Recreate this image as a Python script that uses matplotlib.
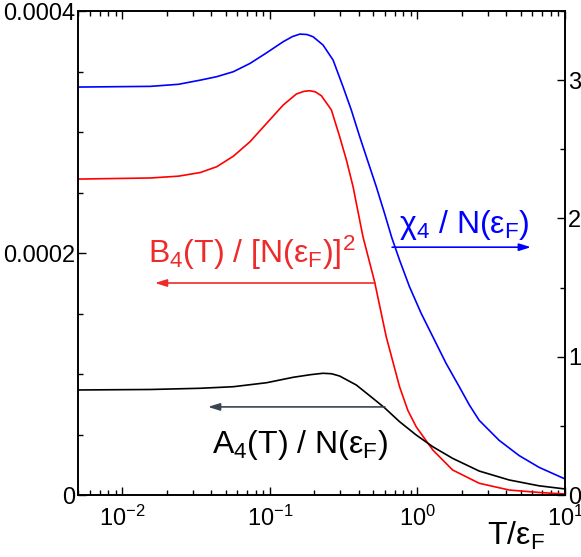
import matplotlib
matplotlib.use("Agg")
import matplotlib.pyplot as plt
from matplotlib.ticker import MultipleLocator, FixedLocator, LogLocator, NullFormatter

plt.rcParams.update({
    'font.family': ['Liberation Sans', 'DejaVu Sans'],
    'mathtext.fontset': 'custom',
    'mathtext.rm': 'Liberation Sans',
    'mathtext.it': 'Liberation Sans',
    'mathtext.bf': 'Liberation Sans:bold',
})

# chi4 / N(eF)  (right axis)
T_chi = [0.005, 0.0155, 0.024, 0.0337, 0.0436, 0.0565, 0.0733, 0.095, 0.123, 0.142, 0.1595,
         0.178, 0.196, 0.229, 0.268, 0.313, 0.356, 0.406, 0.462, 0.526, 0.598, 0.670,
         0.756, 0.883, 1.059, 1.27, 1.563, 1.92, 2.25, 2.62, 3.58, 4.89, 6.67, 10.0]
chi4 = [2.95, 2.955, 2.97, 3.00, 3.025, 3.061, 3.121, 3.198, 3.278, 3.315, 3.333,
        3.330, 3.314, 3.254, 3.145, 2.952, 2.784, 2.591, 2.410, 2.229, 2.037, 1.860,
        1.699, 1.506, 1.314, 1.145, 0.952, 0.783, 0.650, 0.540, 0.395, 0.285, 0.200, 0.116]

# B4(T) / [N(eF)]^2  (left axis)
T_B = [0.005, 0.0155, 0.024, 0.0337, 0.0436, 0.0565, 0.0733, 0.095, 0.123, 0.151,
       0.170, 0.186, 0.203, 0.223, 0.261, 0.297, 0.330, 0.366, 0.427, 0.512, 0.614, 0.756,
       0.860, 0.980, 1.27, 1.73, 2.62, 4.19, 6.67, 10.0]
B4 = [2.611e-4, 2.62e-4, 2.635e-4, 2.665e-4, 2.713e-4, 2.800e-4, 2.920e-4, 3.072e-4, 3.223e-4, 3.314e-4,
      3.336e-4, 3.341e-4, 3.332e-4, 3.300e-4, 3.182e-4, 2.961e-4, 2.768e-4, 2.548e-4, 2.135e-4, 1.763e-4, 1.308e-4, 8.95e-5,
      7.0e-5, 5.64e-5, 3.72e-5, 2.07e-5, 9.7e-6, 4.1e-6, 2.1e-6, 8e-7]

# A4(T) / N(eF)  (left axis)
T_A = [0.005, 0.0155, 0.0337, 0.0565, 0.095, 0.144, 0.190, 0.229, 0.262, 0.297, 0.385, 0.499,
       0.598, 0.756, 0.980, 1.27, 1.73, 2.62, 4.19, 6.67, 10.0]
A4 = [8.68e-5, 8.72e-5, 8.82e-5, 8.95e-5, 9.28e-5, 9.73e-5, 9.95e-5, 1.006e-4, 1.002e-4, 9.83e-5, 9.09e-5, 7.99e-5,
      7.21e-5, 6.06e-5, 4.96e-5, 3.99e-5, 3.03e-5, 1.98e-5, 1.24e-5, 7.6e-6, 5.0e-6]

left_ticks = [0, 0.0002, 0.0004]
left_labels = ['0', '0.0002', '0.0004']
right_ticks = [0, 1, 2, 3]

W, H = 581, 557
fig = plt.figure(figsize=(W / 100, H / 100), dpi=100)
ax = fig.add_axes([78 / W, 1 - 495 / H, (565 - 78) / W, (495 - 11) / H])
ax2 = ax.twinx()

ax.plot(T_B, B4, color='#ff0000', lw=1.2)
ax.plot(T_A, A4, color='black', lw=1.2)
ax2.plot(T_chi, chi4, color='#0000ff', lw=1.2)

ax.set_xscale('log')
ax.set_xlim(0.005, 10)
ax.set_ylim(0, 0.0004)
ax2.set_ylim(0, 3.5)

ax.yaxis.set_major_locator(FixedLocator(left_ticks))
ax.set_yticklabels(left_labels)
ax.yaxis.set_minor_locator(MultipleLocator(0.00005))
ax2.yaxis.set_major_locator(FixedLocator(right_ticks))
ax2.yaxis.set_minor_locator(MultipleLocator(0.5))
ax.xaxis.set_major_locator(LogLocator(base=10, numticks=10))
ax.xaxis.set_minor_locator(LogLocator(base=10, subs=range(2, 10), numticks=20))
ax.xaxis.set_minor_formatter(NullFormatter())

for a in (ax, ax2):
    a.tick_params(which='major', direction='in', length=6, width=1.0, labelsize=17)
    a.tick_params(which='minor', direction='in', length=3.5, width=1.0)
    for s in a.spines.values():
        s.set_linewidth(1.2)
ax.tick_params(axis='x', which='both', top=True, pad=8)
ax.tick_params(axis='y', which='both', right=False, pad=2)
ax2.tick_params(axis='y', pad=2)

ax.text(0.840, -0.103, r'$\mathrm{T/ε_F}$', transform=ax.transAxes, fontsize=23,
        ha='left', va='baseline')

# annotations
ax.text(0.144, 0.479, r'$\mathrm{B_4(T)\ /\ [N(ε_F)]^2}$', transform=ax.transAxes,
        fontsize=23, color='#ee2b2b', ha='left', va='baseline')
ax.annotate('', xy=(0.158, 0.438), xytext=(0.610, 0.438), xycoords='axes fraction',
            arrowprops=dict(arrowstyle='-|>,head_length=0.7,head_width=0.22',
                            color='#ee2b2b', lw=1.2, shrinkA=0, shrinkB=0))

ax.text(0.659, 0.541, r'$\mathrm{χ_4\ /\ N(ε_F)}$', transform=ax.transAxes,
        fontsize=23, color='#0000ff', ha='left', va='baseline')
ax.annotate('', xy=(0.930, 0.512), xytext=(0.645, 0.512), xycoords='axes fraction',
            arrowprops=dict(arrowstyle='-|>,head_length=0.7,head_width=0.22',
                            color='#0000ff', lw=1.2, shrinkA=0, shrinkB=0))

ax.text(0.275, 0.087, r'$\mathrm{A_4(T)\ /\ N(ε_F)}$', transform=ax.transAxes,
        fontsize=23, color='black', ha='left', va='baseline')
ax.annotate('', xy=(0.267, 0.182), xytext=(0.630, 0.182), xycoords='axes fraction',
            arrowprops=dict(arrowstyle='-|>,head_length=0.7,head_width=0.22',
                            color='#3a4550', lw=1.2, shrinkA=0, shrinkB=0))

fig.savefig('out.png', dpi=100)
